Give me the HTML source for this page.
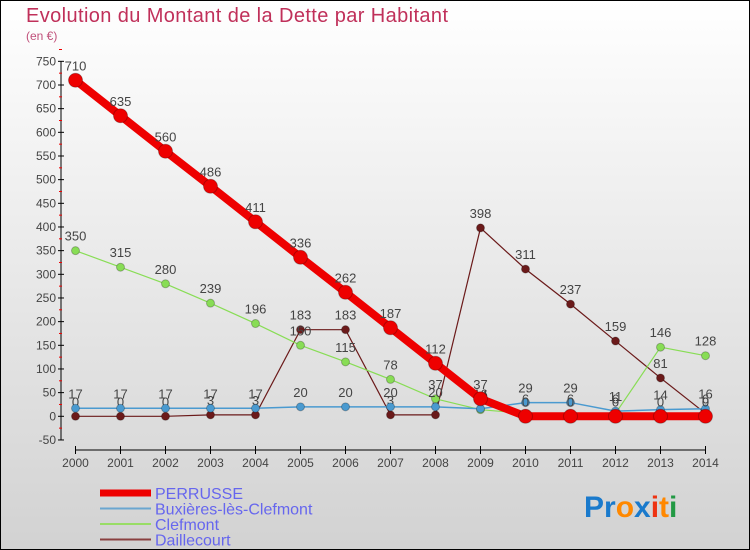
<!DOCTYPE html>
<html><head><meta charset="utf-8"><style>
body{margin:0}
#wrap{width:750px;height:550px;position:relative;box-sizing:border-box;border:1px solid #000;background:linear-gradient(#ffffff,#d2d2d2);font-family:"Liberation Sans",sans-serif;overflow:hidden}
</style></head><body>
<div id="wrap">
<svg id="svg" width="750" height="550" style="position:absolute;left:-1px;top:-1px"></svg>
</div>
<script>
const years=[2000,2001,2002,2003,2004,2005,2006,2007,2008,2009,2010,2011,2012,2013,2014];
const perrusse=[710,635,560,486,411,336,262,187,112,37,0,0,0,0,0];
const buxieres=[17,17,17,17,17,20,20,20,20,16,29,29,11,14,16];
const clefmont=[350,315,280,239,196,150,115,78,37,14,6,6,6,146,128];
const daillecourt=[0,0,0,3,3,183,183,3,3,398,311,237,159,81,6];
const yTicks=[-50,0,50,100,150,200,250,300,350,400,450,500,550,600,650,700,750];
const NS="http://www.w3.org/2000/svg";
const svg=document.getElementById('svg');
function X(i){return 75.5+i*45;}
function Y(v){return 416.3-v*0.4733;}
function mk(t,a,p){const e=document.createElementNS(NS,t);for(const k in a)e.setAttribute(k,a[k]);(p||svg).appendChild(e);return e;}
let t=mk('text',{x:26,y:22,fill:'#c0305a','font-size':20,textLength:422});t.textContent='Evolution du Montant de la Dette par Habitant';

t=mk('text',{x:26,y:40,fill:'#c0507a','font-size':12});t.textContent='(en €)';

let ax=mk('g',{});
mk('line',{x1:61,y1:Y(750),x2:61,y2:Y(-50),stroke:'#000'},ax);
yTicks.forEach(v=>{mk('line',{x1:58,y1:Y(v),x2:64,y2:Y(v),stroke:'#000'},ax);
 mk('line',{x1:59,y1:Y(v+25),x2:62,y2:Y(v+25),stroke:'#e00'},ax);
 const l=mk('text',{x:56,y:Y(v)+4,'text-anchor':'end','font-size':12,fill:'#444'},ax);l.textContent=v;});
let xa=mk('g',{});
mk('line',{x1:X(0),y1:450,x2:X(14),y2:450,stroke:'#000'},xa);
years.forEach((y,i)=>{mk('line',{x1:X(i),y1:446,x2:X(i),y2:454,stroke:'#000'},xa);
 const l=mk('text',{x:X(i),y:467,'text-anchor':'middle','font-size':12,fill:'#444'},xa);l.textContent=y;});
function series(data,color,w,r,name){
 const g=mk('g',{});
 mk('polyline',{points:data.map((v,i)=>X(i)+','+Y(v)).join(' '),fill:'none',stroke:color,'stroke-width':w},g);
 data.forEach((v,i)=>{const c=mk('circle',{cx:X(i),cy:Y(v),r:r,fill:color,stroke:'rgba(0,0,0,0.25)'},g);
  
  const l=mk('text',{x:X(i),y:Y(v)-10,'text-anchor':'middle','font-size':13,fill:'#444'},g);l.textContent=v;});
}
series(daillecourt,'#6b1a1a',1.2,4,'daillecourt-series');
series(clefmont,'#88dd55',1.2,4,'clefmont-series');
series(buxieres,'#4a9ad0',1.5,4,'buxieres-series');
series(perrusse,'#ee0000',8,7,'perrusse-series');
const leg=[['PERRUSSE','#ee0000',7],['Buxières-lès-Clefmont','#6aa6d0',2],['Clefmont','#99dd66',2],['Daillecourt','#8a4040',2]];
leg.forEach((d,i)=>{const g=mk('g',{});
 const y=493+i*15.5;mk('line',{x1:100,y1:y,x2:151,y2:y,stroke:d[1],'stroke-width':d[2]},g);
 const l=mk('text',{x:155,y:y+6,'font-size':16,fill:'#6666ee'},g);l.textContent=d[0];});
const lg=mk('text',{x:584,y:517,'font-size':30,'font-weight':'bold'});
[['Pr','#1a7acc'],['o','#ff8800'],['x','#1a7acc'],['i','#ee3311'],['t','#ff8800'],['i','#229944']].forEach(s=>{const ts=mk('tspan',{fill:s[1]},lg);ts.textContent=s[0];});
</script>
</body></html>
